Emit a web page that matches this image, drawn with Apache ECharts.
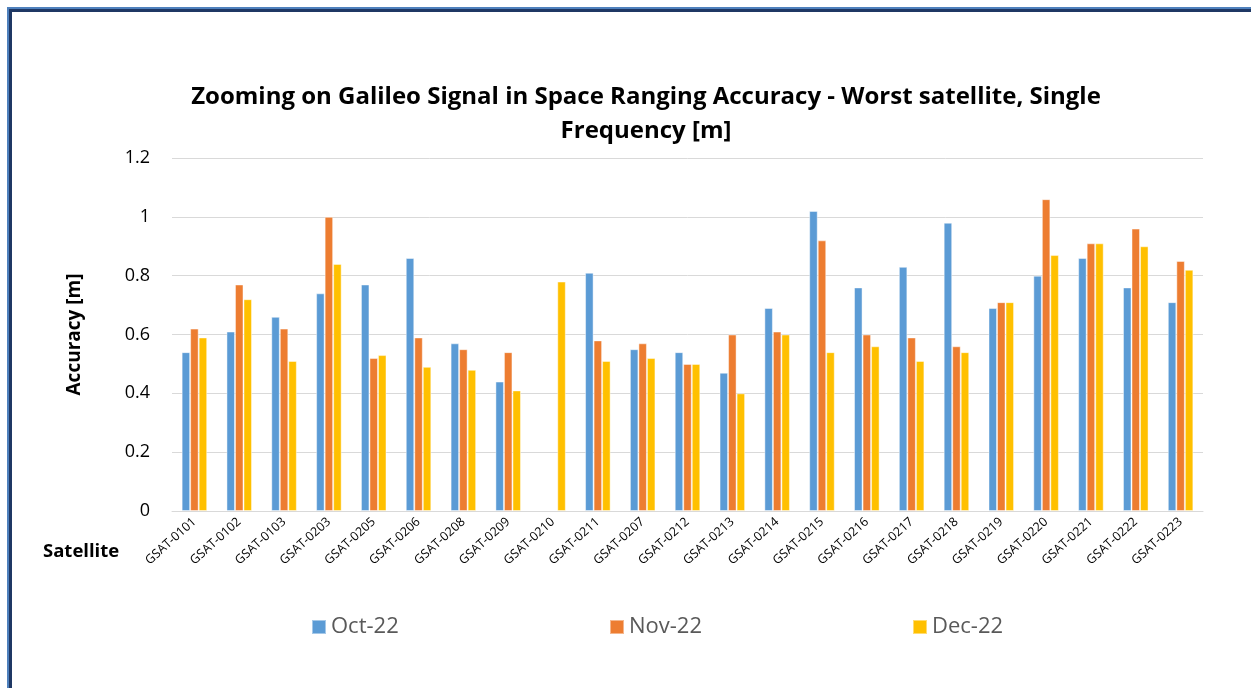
<!DOCTYPE html>
<html>
<head>
<meta charset="utf-8">
<script src="https://cdn.jsdelivr.net/npm/echarts@6/dist/echarts.min.js"></script>
<style>
  html, body { margin: 0; padding: 0; background: #fff; }
  #main { width: 1251px; height: 688px; }
</style>
</head>
<body>
<div id="main"></div>
<script>
const satellites = [
  "GSAT-0101", "GSAT-0102", "GSAT-0103", "GSAT-0203", "GSAT-0205", "GSAT-0206",
  "GSAT-0208", "GSAT-0209", "GSAT-0210", "GSAT-0211", "GSAT-0207", "GSAT-0212",
  "GSAT-0213", "GSAT-0214", "GSAT-0215", "GSAT-0216", "GSAT-0217", "GSAT-0218",
  "GSAT-0219", "GSAT-0220", "GSAT-0221", "GSAT-0222", "GSAT-0223"
];
const oct22 = [0.54, 0.61, 0.66, 0.74, 0.77, 0.86, 0.57, 0.44, null, 0.81, 0.55, 0.54,
  0.47, 0.69, 1.02, 0.76, 0.83, 0.98, 0.69, 0.80, 0.86, 0.76, 0.71];
const nov22 = [0.62, 0.77, 0.62, 1.00, 0.52, 0.59, 0.55, 0.54, null, 0.58, 0.57, 0.50,
  0.60, 0.61, 0.92, 0.60, 0.59, 0.56, 0.71, 1.06, 0.91, 0.96, 0.85];
const dec22 = [0.59, 0.72, 0.51, 0.84, 0.53, 0.49, 0.48, 0.41, 0.78, 0.51, 0.52, 0.50,
  0.40, 0.60, 0.54, 0.56, 0.51, 0.54, 0.71, 0.87, 0.91, 0.90, 0.82];
const seriesNames = ["Oct-22", "Nov-22", "Dec-22"];
const colors = ["#5b9bd5", "#ed7d31", "#ffc000"];

const font = "'Open Sans', Lato, sans-serif";

const chart = echarts.init(document.getElementById("main"), null, { renderer: "canvas" });

function makeSeries(name, data, color) {
  return {
    name: name,
    type: "bar",
    data: data,
    barGap: "0%",
    barCategoryGap: "43%",
    itemStyle: { color: color, borderColor: "rgba(255,255,255,0.45)", borderWidth: 1 },
    animation: false
  };
}

const legendLefts = [306, 604, 907];

const option = {
  backgroundColor: "#ffffff",
  title: {
    text: "Zooming on Galileo Signal in Space Ranging Accuracy - Worst satellite, Single\nFrequency [m]",
    left: 641,
    textAlign: "center",
    top: 75,
    textStyle: { fontFamily: font, fontWeight: "bold", fontSize: 24, lineHeight: 34, color: "#000" }
  },
  legend: seriesNames.map((n, i) => ({
    data: [n],
    left: legendLefts[i],
    top: 611,
    itemWidth: 14,
    itemHeight: 14,
    itemGap: 5,
    icon: "rect",
    textStyle: { fontFamily: font, fontSize: 22, color: "#595959" }
  })),
  grid: { left: 172, right: 48, top: 158, bottom: 177 },
  xAxis: {
    type: "category",
    data: satellites,
    axisLine: { lineStyle: { color: "#d9d9d9", width: 1 } },
    axisTick: { show: false },
    axisLabel: {
      interval: 0,
      rotate: 42,
      margin: 9,
      fontFamily: font,
      fontSize: 12.5,
      color: "#000"
    }
  },
  yAxis: {
    type: "value",
    min: 0,
    max: 1.2,
    interval: 0.2,
    name: "Accuracy [m]",
    nameLocation: "middle",
    nameGap: 88,
    nameTextStyle: { fontFamily: font, fontWeight: "bold", fontSize: 19, color: "#000" },
    axisLabel: {
      fontFamily: font,
      fontSize: 18,
      color: "#000",
      margin: 22,
      formatter: v => String(Math.round(v * 10) / 10)
    },
    splitLine: { lineStyle: { color: "#d9d9d9", width: 1 } }
  },
  graphic: [
    { type: "rect", shape: { x: 8, y: 8, width: 1300, height: 800 }, style: { fill: "none", stroke: "#4f81bd", lineWidth: 2 }, silent: true },
    { type: "rect", shape: { x: 10.5, y: 10.5, width: 1300, height: 800 }, style: { fill: "none", stroke: "#1f3864", lineWidth: 3 }, silent: true },
    {
      type: "text",
      x: 43,
      y: 552,
      style: { text: "Satellite", font: "bold 18.5px " + font, fill: "#000", verticalAlign: "middle" }
    }
  ],
  series: [
    makeSeries(seriesNames[0], oct22, colors[0]),
    makeSeries(seriesNames[1], nov22, colors[1]),
    makeSeries(seriesNames[2], dec22, colors[2])
  ]
};

chart.setOption(option);
</script>
</body>
</html>
